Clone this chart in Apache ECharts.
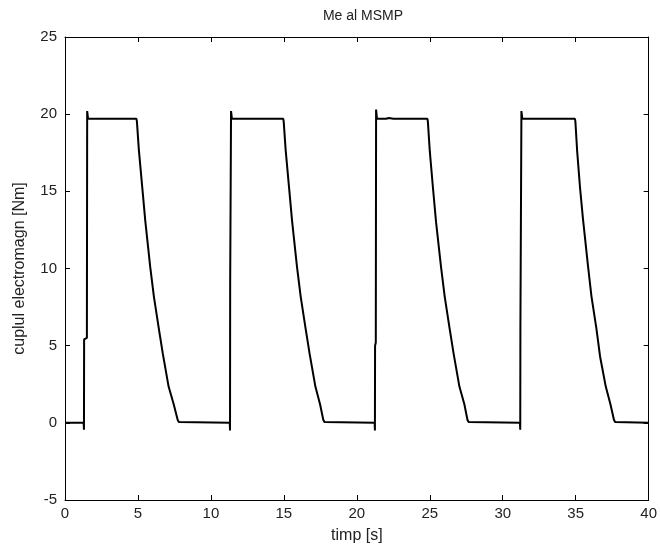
<!DOCTYPE html>
<html>
<head>
<meta charset="utf-8">
<script src="https://cdn.jsdelivr.net/npm/echarts@6/dist/echarts.min.js"></script>
<style>html,body{margin:0;padding:0;background:#fff;}#c{width:660px;height:554px;}</style>
</head>
<body>
<div id="c"></div>
<script>
// Time samples [s]
var timeValues = [
  0, 1.28, 1.30, 1.31, 1.50, 1.52, 1.58, 2.0, 2.1, 2.4, 3.3, 3.4, 3.7, 4.90, 4.93, 5.06, 5.29, 5.50, 5.84, 6.09, 6.43, 6.70, 7.10, 7.45, 7.72, 7.80,
  11.29, 11.31, 11.32, 11.36, 11.38, 11.44, 12.0, 12.1, 12.4, 13.4, 13.5, 13.8, 14.96, 14.99, 15.12, 15.35, 15.56, 15.90, 16.15, 16.49, 16.76, 17.16, 17.48, 17.70, 17.78,
  21.22, 21.24, 21.25, 21.30, 21.32, 21.38, 22.0, 22.2, 22.5, 23.3, 23.4, 23.7, 24.84, 24.87, 25.00, 25.22, 25.43, 25.77, 26.02, 26.36, 26.63, 27.03, 27.37, 27.58, 27.66,
  31.18, 31.20, 31.21, 31.26, 31.28, 31.34, 32.0, 32.1, 32.4, 33.3, 33.4, 33.7, 34.95, 34.98, 35.10, 35.30, 35.50, 35.85, 36.08, 36.42, 36.67, 37.06, 37.38, 37.62, 37.70,
  40
];
// Electromagnetic torque [Nm]
var torqueValues = [
  0, 0, -0.45, 5.4, 5.5, 20.2, 19.7, 19.7, 19.8, 19.7, 19.7, 19.6, 19.7, 19.7, 19.5, 17.7, 15.3, 13.1, 10.1, 8.2, 6.1, 4.5, 2.35, 1.2, 0.2, 0.05,
  0, -0.5, 9.1, 9.1, 20.2, 19.7, 19.7, 19.8, 19.7, 19.7, 19.6, 19.7, 19.7, 19.5, 17.7, 15.3, 13.1, 10.1, 8.2, 6.1, 4.5, 2.35, 1.2, 0.2, 0.05,
  0, -0.5, 5.0, 5.2, 20.3, 19.7, 19.7, 19.75, 19.7, 19.7, 19.6, 19.7, 19.7, 19.5, 17.6, 15.2, 13.0, 10.1, 8.2, 6.1, 4.5, 2.35, 1.2, 0.2, 0.05,
  0, -0.45, 6.0, 6.1, 20.2, 19.7, 19.7, 19.8, 19.7, 19.7, 19.6, 19.7, 19.7, 19.5, 17.6, 15.2, 13.2, 10.1, 8.2, 6.1, 4.3, 2.35, 1.2, 0.2, 0.05,
  0
];
var xTicks = [0, 5, 10, 15, 20, 25, 30, 35, 40];
var yTicks = [-5, 0, 5, 10, 15, 20, 25];
var titleText = 'Me al MSMP';
var xName = 'timp [s]';
var yName = 'cuplul electromagn [Nm]';

var seriesData = timeValues.map(function (t, i) { return [t, torqueValues[i]]; });
var font = 'Liberation Sans, Arial, sans-serif';
var lineStyle = { color: '#000', width: 1 };
function axisBase(extra) {
  var o = {
    axisLine: { show: true, onZero: false, lineStyle: lineStyle },
    axisTick: { show: true, inside: true, length: 5, lineStyle: lineStyle },
    splitLine: { show: false },
    axisLabel: { show: false }
  };
  for (var k in extra) o[k] = extra[k];
  return o;
}
var chart = echarts.init(document.getElementById('c'), null, { renderer: 'canvas' });
chart.setOption({
  backgroundColor: '#fff',
  animation: false,
  title: {
    text: titleText, left: 358, top: 4, textAlign: 'center',
    textStyle: { fontFamily: font, fontSize: 14, fontWeight: 'normal', color: '#222' }
  },
  grid: { left: 65, right: 8, top: 37, bottom: 54, show: false },
  xAxis: [
    axisBase({
      type: 'value', min: xTicks[0], max: xTicks[xTicks.length - 1], interval: 5, position: 'bottom',
      name: xName, nameLocation: 'middle', nameGap: 28,
      nameTextStyle: { fontFamily: font, fontSize: 16, color: '#222' },
      axisLabel: { show: true, margin: 6, fontFamily: font, fontSize: 15, color: '#222' }
    }),
    axisBase({ type: 'value', min: xTicks[0], max: xTicks[xTicks.length - 1], interval: 5, position: 'top' })
  ],
  yAxis: [
    axisBase({
      type: 'value', min: yTicks[0], max: yTicks[yTicks.length - 1], interval: 5, position: 'left',
      name: yName, nameLocation: 'middle', nameGap: 37, nameRotate: 90,
      nameTextStyle: { fontFamily: font, fontSize: 16, color: '#222' },
      axisLabel: { show: true, margin: 8, fontFamily: font, fontSize: 15, color: '#222' }
    }),
    axisBase({ type: 'value', min: yTicks[0], max: yTicks[yTicks.length - 1], interval: 5, position: 'right' })
  ],
  series: [{
    type: 'line', data: seriesData, xAxisIndex: 0, yAxisIndex: 0,
    showSymbol: false, symbol: 'none',
    lineStyle: { color: '#000', width: 2 }
  }]
});
</script>
</body>
</html>
